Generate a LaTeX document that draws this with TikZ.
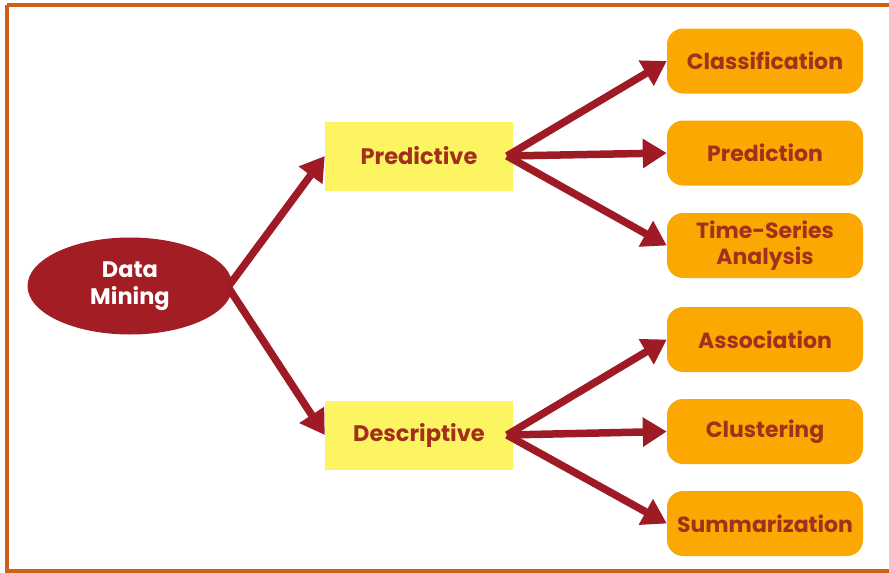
\documentclass[tikz,border=0pt]{standalone}
\usepackage{fontspec}
\setmainfont{Poppins}
\usetikzlibrary{shapes.geometric,arrows.meta}
\definecolor{frameor}{HTML}{CD6118}
\definecolor{arrred}{HTML}{9E1B25}
\definecolor{ellred}{HTML}{A21D24}
\definecolor{boxyel}{HTML}{FDF462}
\definecolor{boxor}{HTML}{FBA902}
\definecolor{txtred}{HTML}{A2301C}
\tikzset{
  dm/.style={ellipse, fill=ellred, minimum width=205pt, minimum height=97pt, inner sep=0pt,
    text=white, font=\bfseries\fontsize{22.5}{27}\selectfont, align=center},
  midbox/.style={rectangle, fill=boxyel, minimum width=188pt, minimum height=69pt, inner sep=0pt,
    text=txtred, font=\bfseries\fontsize{22.5}{26}\selectfont},
  leafbox/.style={rectangle, rounded corners=16pt, fill=boxor, minimum width=196pt, minimum height=65pt, inner sep=0pt,
    text=txtred, font=\bfseries\fontsize{22}{26}\selectfont, align=center},
  conn/.style={draw=arrred, line width=7.5pt, -{Triangle[length=24pt,width=28pt]}}
}
\begin{document}
\begin{tikzpicture}[x=1pt,y=-1pt]
\useasboundingbox (0,0) rectangle (889,573);
\draw[frameor, line width=4pt] (7,5) -- (895,5) (7,5) -- (7,571) -- (895,571);
% nodes
\node[dm] (dm) at (130,286) {Data\\Mining};
\node[midbox] (pred) at (419,156) {Predictive};
\node[midbox] (desc) at (419,435) {Descriptive};
\node[leafbox] (cls) at (765,61) {Classification};
\node[leafbox] (prd) at (765,153) {Prediction};
\node[leafbox] (tsa) at (765,245.5) {Time-Series\\Analysis};
\node[leafbox] (asc) at (765,339.5) {Association};
\node[leafbox] (clu) at (765,431.5) {Clustering};
\node[leafbox] (sum) at (765,523.5) {Summarization};
% junction points
\coordinate (j0) at (228,287);
\coordinate (j1) at (507,156);
\coordinate (j2) at (507,435);
\draw[conn] (j0) -- (pred.west);
\draw[conn] (j0) -- (desc.west);
\draw[conn] (j1) -- (cls.west);
\draw[conn] (j1) -- (prd.west);
\draw[conn] (j1) -- (tsa.west);
\draw[conn] (j2) -- (asc.west);
\draw[conn] (j2) -- (clu.west);
\draw[conn] (j2) -- (sum.west);
\end{tikzpicture}
\end{document}
